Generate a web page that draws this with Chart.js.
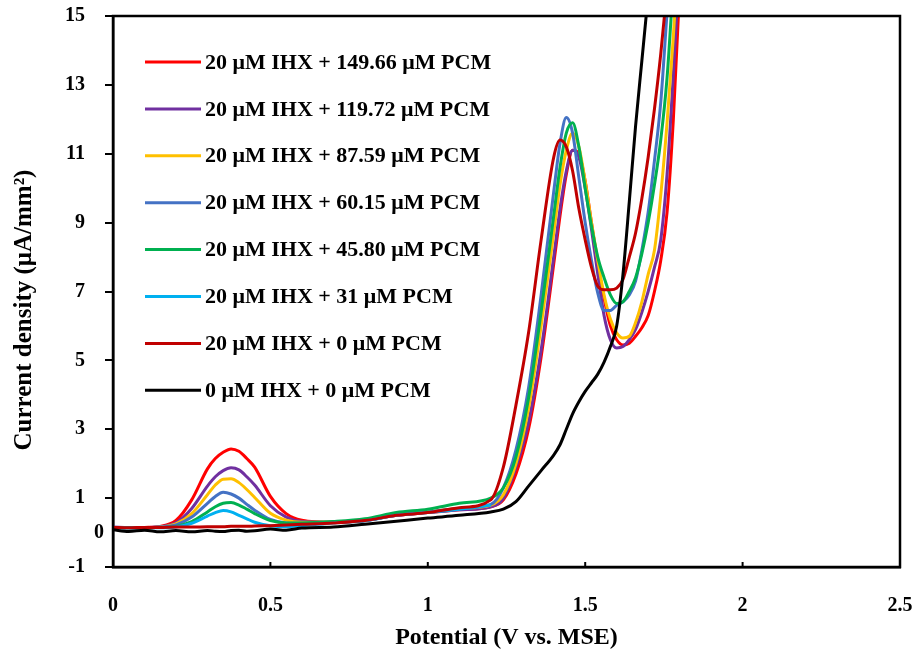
<!DOCTYPE html>
<html>
<head>
<meta charset="utf-8">
<script src="https://cdn.jsdelivr.net/npm/chart.js@4.4.1/dist/chart.umd.min.js"></script>
<style>
  html, body { margin: 0; padding: 0; background: #fff; }
  #wrap { width: 919px; height: 657px; }
</style>
</head>
<body>
<div id="wrap"><canvas id="cv" width="919" height="657"></canvas></div>
<script>
// --- data (x: V vs. MSE, y: µA/mm²) ---
const potential = [0, 0.05, 0.1, 0.15, 0.2, 0.25, 0.3, 0.325, 0.35, 0.375, 0.4, 0.425, 0.45, 0.5, 0.55, 0.6, 0.7, 0.8,
  0.9, 1.0, 1.1, 1.2, 1.24, 1.28, 1.32, 1.36, 1.4, 1.42, 1.44, 1.46, 1.48, 1.5, 1.52, 1.54, 1.56, 1.58, 1.6,
  1.62, 1.64, 1.66, 1.68, 1.7, 1.72, 1.74, 1.76, 1.78, 1.8, 1.82];

const pcm149 = [0.15, 0.14, 0.15, 0.18, 0.35, 0.95, 1.85, 2.15, 2.33, 2.43, 2.36, 2.15, 1.9, 1.05, 0.55, 0.36, 0.3, 0.35,
  0.5, 0.58, 0.66, 0.75, 0.95, 1.7, 3.0, 5.1, 7.8, 9.2, 10.4, 11.1, 11.0, 10.2, 9.0, 7.8, 6.8, 6.0, 5.6,
  5.45, 5.5, 5.7, 5.95, 6.3, 7.0, 7.9, 9.3, 12.0, 15.8, null];
const pcm119 = [0.16, 0.15, 0.15, 0.17, 0.28, 0.7, 1.35, 1.62, 1.8, 1.88, 1.82, 1.62, 1.38, 0.78, 0.45, 0.32, 0.3, 0.35,
  0.5, 0.58, 0.66, 0.75, 1.0, 1.9, 3.2, 5.3, 8.0, 9.4, 10.5, 11.1, 10.9, 10.0, 8.8, 7.5, 6.3, 5.6, 5.36,
  5.4, 5.6, 5.9, 6.4, 7.0, 7.7, 8.5, 10.4, 13.3, 16.6, null];
const pcm87 = [0.15, 0.15, 0.14, 0.16, 0.25, 0.55, 1.1, 1.38, 1.55, 1.56, 1.45, 1.25, 1.02, 0.56, 0.36, 0.3, 0.3, 0.36,
  0.52, 0.6, 0.7, 0.8, 1.1, 2.0, 3.6, 6.0, 8.7, 10.1, 11.1, 11.6, 11.2, 10.2, 9.0, 7.9, 6.9, 6.2, 5.8,
  5.65, 5.7, 6.1, 6.7, 7.5, 8.2, 9.8, 11.9, 14.4, 17.5, null];
const pcm60 = [0.14, 0.15, 0.14, 0.16, 0.22, 0.45, 0.85, 1.05, 1.17, 1.12, 1.0, 0.82, 0.65, 0.38, 0.28, 0.27, 0.3, 0.35,
  0.52, 0.6, 0.7, 0.82, 1.3, 2.4, 4.2, 6.9, 9.9, 11.3, 12.05, 11.6, 10.3, 9.0, 7.9, 6.95, 6.45, 6.45, 6.6,
  6.7, 6.9, 7.3, 8.2, 9.3, 10.8, 12.5, 15.1, null, null, null];
const pcm45 = [0.15, 0.14, 0.15, 0.15, 0.18, 0.32, 0.6, 0.75, 0.85, 0.87, 0.8, 0.68, 0.55, 0.35, 0.28, 0.28, 0.32, 0.4,
  0.58, 0.68, 0.85, 1.0, 1.3, 2.2, 3.9, 6.4, 9.2, 10.6, 11.6, 11.9, 11.2, 10.0, 8.9, 8.0, 7.4, 6.9, 6.65,
  6.7, 7.0, 7.4, 8.1, 9.0, 10.1, 11.4, 13.2, 16.0, null, null];
const pcm31 = [0.14, 0.13, 0.14, 0.14, 0.16, 0.27, 0.48, 0.58, 0.64, 0.6, 0.5, 0.4, 0.3, 0.2, 0.17, 0.2, 0.28, 0.34,
  0.5, 0.58, 0.68, 0.8, null, null, null, null, null, null, null, null, null, null, null, null, null, null, null,
  null, null, null, null, null, null, null, null, null, null, null];
const pcm0 = [0.15, 0.14, 0.15, 0.15, 0.16, 0.16, 0.17, 0.17, 0.17, 0.18, 0.18, 0.18, 0.19, 0.2, 0.22, 0.24, 0.28, 0.35,
  0.5, 0.58, 0.72, 0.95, 1.9, 3.7, 5.8, 8.5, 10.9, 11.4, 11.2, 10.5, 9.4, 8.5, 7.7, 7.15, 7.05, 7.05, 7.1,
  7.35, 8.0, 8.7, 9.7, 10.9, 12.3, 13.9, 15.8, null, null, null];
const blank = [0.08, 0.03, 0.07, 0.02, 0.06, 0.02, 0.06, 0.04, 0.03, 0.06, 0.07, 0.04, 0.05, 0.1, 0.07, 0.13, 0.16, 0.24,
  0.33, 0.42, 0.5, 0.6, 0.68, 0.9, 1.35, 1.8, 2.25, 2.55, 3.0, 3.45, 3.8, 4.1, 4.35, 4.6, 4.95, 5.4, 6.0,
  7.5, 9.6, 11.8, 13.7, 15.6, null, null, null, null, null, null];

const seriesLabels = [
  '20 μM IHX + 149.66 μM PCM',
  '20 μM IHX + 119.72 μM PCM',
  '20 μM IHX + 87.59 μM PCM',
  '20 μM IHX + 60.15 μM PCM',
  '20 μM IHX + 45.80 μM PCM',
  '20 μM IHX + 31 μM PCM',
  '20 μM IHX + 0 μM PCM',
  '0 μM IHX + 0 μM PCM'
];
const seriesValues = [pcm149, pcm119, pcm87, pcm60, pcm45, pcm31, pcm0, blank];
const seriesColors = ['#FF0000', '#7030A0', '#FFC000', '#4472C4', '#00B050', '#00B0F0', '#C00000', '#000000'];

const xTicks = [0, 0.5, 1, 1.5, 2, 2.5];
const yTicks = [-1, 1, 3, 5, 7, 9, 11, 13, 15];

const FONT = '"Liberation Serif", "Times New Roman", serif';

// frame round the plot, inner x tick marks, y title, the loose "0" label and the legend
const extras = {
    id: 'extras',
    afterDraw(chart) {
        const { ctx, chartArea: a } = chart;
        ctx.save();
        ctx.strokeStyle = '#000';
        ctx.lineWidth = 2.5;
        ctx.strokeRect(a.left, a.top, a.right - a.left, a.bottom - a.top);

        ctx.lineWidth = 2;
        xTicks.slice(1, -1).forEach(v => {
            const px = chart.scales.x.getPixelForValue(v);
            ctx.beginPath();
            ctx.moveTo(px, a.bottom);
            ctx.lineTo(px, a.bottom - 5);
            ctx.stroke();
        });

        ctx.fillStyle = '#000';
        ctx.font = 'bold 20px ' + FONT;
        ctx.textAlign = 'center';
        ctx.textBaseline = 'middle';
        ctx.fillText('0', a.left - 14, chart.scales.y.getPixelForValue(0));

        ctx.save();
        ctx.translate(25, 310);
        ctx.rotate(-Math.PI / 2);
        ctx.font = 'bold 25px ' + FONT;
        ctx.fillText('Current density (μA/mm²)', 0, 0);
        ctx.restore();

        ctx.font = 'bold 22px ' + FONT;
        ctx.textAlign = 'left';
        chart.data.datasets.forEach((ds, i) => {
            const y = 62 + i * 46.9;
            ctx.strokeStyle = ds.borderColor;
            ctx.lineWidth = 3;
            ctx.beginPath();
            ctx.moveTo(145, y);
            ctx.lineTo(201, y);
            ctx.stroke();
            ctx.fillText(ds.label, 205, y + 1);
        });
        ctx.restore();
    }
};

new Chart(document.getElementById('cv'), {
    type: 'line',
    data: {
        datasets: seriesLabels.map((label, i) => ({
            label,
            data: potential.map((x, j) => ({ x, y: seriesValues[i][j] })),
            borderColor: seriesColors[i],
            borderWidth: 3,
            pointRadius: 0,
            cubicInterpolationMode: 'monotone',
            order: seriesLabels.length - i
        }))
    },
    options: {
        responsive: false,
        animation: false,
        layout: { autoPadding: false, padding: { top: 16, right: 19, left: 0, bottom: 0 } },
        plugins: { legend: { display: false }, tooltip: { enabled: false } },
        scales: {
            x: {
                type: 'linear',
                min: 0,
                max: 2.5,
                afterBuildTicks: s => { s.ticks = xTicks.map(v => ({ value: v })); },
                afterFit: s => { s.height = 90; s.paddingLeft = 0; s.paddingRight = 0; },
                grid: { display: false },
                border: { color: '#000', width: 2.5 },
                ticks: {
                    color: '#000',
                    padding: 19,
                    callback: v => String(v),
                    font: { family: FONT, size: 20, weight: 'bold' }
                },
                title: {
                    display: true,
                    text: 'Potential (V vs. MSE)',
                    color: '#000',
                    padding: { top: 0, bottom: 5 },
                    font: { family: FONT, size: 24, weight: 'bold' }
                }
            },
            y: {
                min: -1,
                max: 15,
                afterBuildTicks: s => { s.ticks = yTicks.map(v => ({ value: v })); },
                afterFit: s => { s.width = 113; s.paddingTop = 0; s.paddingBottom = 0; },
                grid: { drawOnChartArea: false, tickLength: 8, color: '#000', lineWidth: 2 },
                border: { color: '#000', width: 2.5 },
                ticks: { color: '#000', padding: 20, font: { family: FONT, size: 20, weight: 'bold' } }
            }
        }
    },
    plugins: [extras]
});
</script>
</body>
</html>
